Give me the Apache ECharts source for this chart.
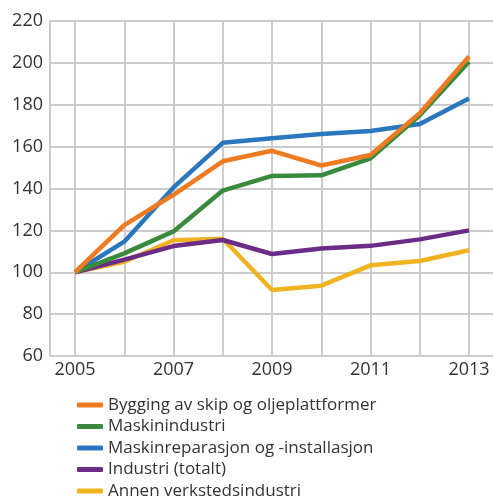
<!DOCTYPE html>
<html>
<head>
<meta charset="utf-8">
<script src="https://cdn.jsdelivr.net/npm/echarts@6/dist/echarts.min.js"></script>
<style>
html,body{margin:0;padding:0;background:#fff;}
#main{width:493px;height:499px;}
</style>
</head>
<body>
<div id="main"></div>
<script>
var years = ['2005','2006','2007','2008','2009','2010','2011','2012','2013'];
var seriesNames = ['Bygging av skip og oljeplattformer','Maskinindustri','Maskinreparasjon og -installasjon','Industri (totalt)','Annen verkstedsindustri'];
var bygging = [100, 122.5, 137, 153, 158, 151, 156, 176, 203];
var maskinindustri = [100, 109, 119.5, 139, 146, 146.3, 154.4, 175, 200.5];
var maskinreparasjon = [100, 114.6, 140.5, 161.8, 164, 166, 167.5, 170.8, 183];
var industri = [100, 106, 112.5, 115.4, 108.7, 111.3, 112.6, 115.7, 120];
var annen = [100, 105, 115.3, 116, 91.5, 93.6, 103.3, 105.4, 110.5];
var yTicks = {min: 60, max: 220, interval: 20};
var colors = ['#ee7a22','#3a8a3e','#2a77be','#6b2c87','#efb322'];

var myChart = echarts.init(document.getElementById('main'));
var allData = [bygging, maskinindustri, maskinreparasjon, industri, annen];
var gridColor = '#cccccc';
var font = '"Open Sans", sans-serif';

var series = seriesNames.map(function(name, i){
    return {
        name: name,
        type: 'line',
        xAxisIndex: 1,
        yAxisIndex: 1,
        z: 10 - i,
        showSymbol: false,
        symbol: 'none',
        lineStyle: {color: colors[i], width: 4.5},
        itemStyle: {color: colors[i]},
        data: allData[i]
    };
});

var option = {
    animation: false,
    backgroundColor: '#ffffff',
    grid: [
        {left: 50, right: 0, top: 21, bottom: 143},
        {left: 75, right: 24, top: 21, bottom: 143}
    ],
    legend: {
        orient: 'vertical',
        left: 72,
        top: 390,
        height: 110,
        itemWidth: 26,
        itemHeight: 5,
        itemGap: 1.5,
        icon: 'roundRect',
        data: seriesNames,
        textStyle: {fontFamily: font, fontSize: 17, lineHeight: 20, color: '#333333'}
    },
    xAxis: [
        {gridIndex: 0, type: 'value', min: 0, max: 1, show: false},
        {
            gridIndex: 1,
            type: 'category',
            boundaryGap: false,
            data: years,
            axisLine: {show: false},
            axisTick: {show: false, interval: 0},
            axisLabel: {interval: 1, margin: 5, fontFamily: font, fontSize: 18, color: '#333333'},
            splitLine: {show: true, interval: 0, lineStyle: {color: gridColor, width: 2}}
        }
    ],
    yAxis: [
        {
            gridIndex: 0,
            type: 'value',
            min: yTicks.min,
            max: yTicks.max,
            interval: yTicks.interval,
            axisLine: {show: true, lineStyle: {color: gridColor, width: 2}},
            axisTick: {show: false},
            axisLabel: {margin: 7, fontFamily: font, fontSize: 18, color: '#333333'},
            splitLine: {show: true, lineStyle: {color: gridColor, width: 2}}
        },
        {
            gridIndex: 1,
            type: 'value',
            min: yTicks.min,
            max: yTicks.max,
            interval: yTicks.interval,
            show: false
        }
    ],
    series: series
};
myChart.setOption(option);
</script>
</body>
</html>
